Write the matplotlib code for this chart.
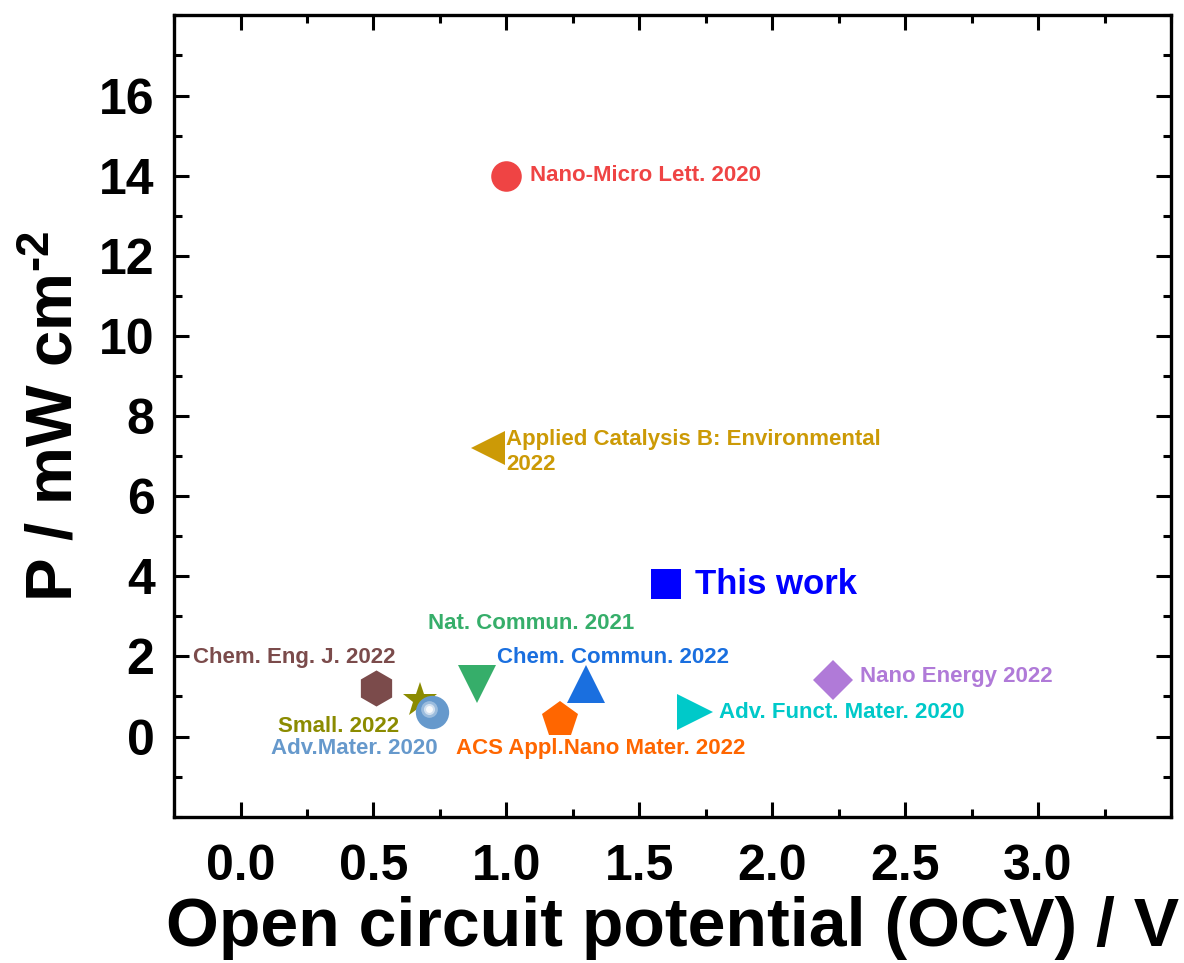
import matplotlib
matplotlib.use('Agg')
import matplotlib.pyplot as plt
from matplotlib.ticker import MultipleLocator

plt.rcParams['font.family'] = ['Liberation Sans', 'DejaVu Sans']
plt.rcParams['font.weight'] = 'bold'
plt.rcParams['mathtext.fontset'] = 'custom'
plt.rcParams['mathtext.rm'] = 'Liberation Sans:bold'
plt.rcParams['mathtext.bf'] = 'Liberation Sans:bold'
plt.rcParams['mathtext.default'] = 'bf'

# OCV (V) and power density (mW cm-2) for each report
refs = ['Nano-Micro Lett. 2020', 'Applied Catalysis B: Environmental\n2022',
        'This work', 'Chem. Eng. J. 2022', 'Small. 2022', 'Adv.Mater. 2020',
        'Nat. Commun. 2021', 'ACS Appl.Nano Mater. 2022', 'Chem. Commun. 2022',
        'Adv. Funct. Mater. 2020', 'Nano Energy 2022']
ocv = [1.00, 0.93, 1.60, 0.51, 0.675, 0.72, 0.89, 1.20, 1.30, 1.71, 2.23]
power = [14.0, 7.2, 3.8, 1.2, 0.9, 0.6, 1.3, 0.42, 1.3, 0.6, 1.4]
markers = ['o', '<', 's', 'h', '*', 'o', 'v', 'p', '^', '>', 'D']
sizes = [22, 24, 21, 26, 26, 24, 27, 27, 27, 26, 20]
colors = ['#EF4444', '#CC9A06', '#0000FF', '#7B4B4B', '#8B8B00', '#6699CC',
          '#36AE6A', '#FF6600', '#1A6FDF', '#00C9C9', '#B07AD8']

# label anchor (left edge, vertical centre) in data units
lab_x = [1.09, 1.00, 1.71, -0.18, 0.14, 0.115, 0.705, 0.81, 0.965, 1.80, 2.33]
lab_y = [14.0, 7.1, 3.8, 1.98, 0.25, -0.30, 2.81, -0.30, 1.98, 0.59, 1.50]
lab_fs = [16, 16, 25, 16, 16, 16, 16, 16, 16, 16, 16]

fig = plt.figure(figsize=(11.84, 9.63), dpi=100)
ax = fig.add_axes([0.147, 0.152, 0.842, 0.832])

for i in range(len(refs)):
    ax.plot(ocv[i], power[i], marker=markers[i], ms=sizes[i], color=colors[i],
            mec=colors[i], mew=0, ls='none', zorder=3)
    ax.text(lab_x[i], lab_y[i], refs[i], color=colors[i], fontsize=lab_fs[i],
            fontweight='bold', ha='left', va='center', linespacing=1.3)

# glossy highlight on the Adv.Mater. sphere
k = refs.index('Adv.Mater. 2020')
for ms, a in [(12, 0.35), (8, 0.55), (5, 0.85)]:
    ax.plot(ocv[k] - 0.01, power[k] + 0.08, 'o', ms=ms, color='white',
            mew=0, alpha=a, zorder=4)

ax.set_xlim(-0.25, 3.5)
ax.set_ylim(-2, 18)
ax.xaxis.set_minor_locator(MultipleLocator(0.25))
ax.yaxis.set_minor_locator(MultipleLocator(1))
ax.set_xticks([0.0, 0.5, 1.0, 1.5, 2.0, 2.5, 3.0])
ax.set_yticks([0, 2, 4, 6, 8, 10, 12, 14, 16])

ax.tick_params(which='both', direction='in', top=True, right=True, width=2.2,
               labelsize=36)
ax.tick_params(which='major', length=11)
ax.tick_params(which='minor', length=6)
ax.tick_params(axis='y', which='major', pad=14)
ax.tick_params(axis='x', which='major', pad=20)
for lbl in ax.get_xticklabels() + ax.get_yticklabels():
    lbl.set_fontweight('bold')
for sp in ax.spines.values():
    sp.set_linewidth(2.4)

ax.set_xlabel('Open circuit potential (OCV) / V', fontsize=49, fontweight='bold',
              labelpad=4)
ax.set_ylabel(r'P / mW cm$^{\text{-}2}$', fontsize=47, fontweight='bold',
              labelpad=10)

fig.savefig('out.png', dpi=100)
